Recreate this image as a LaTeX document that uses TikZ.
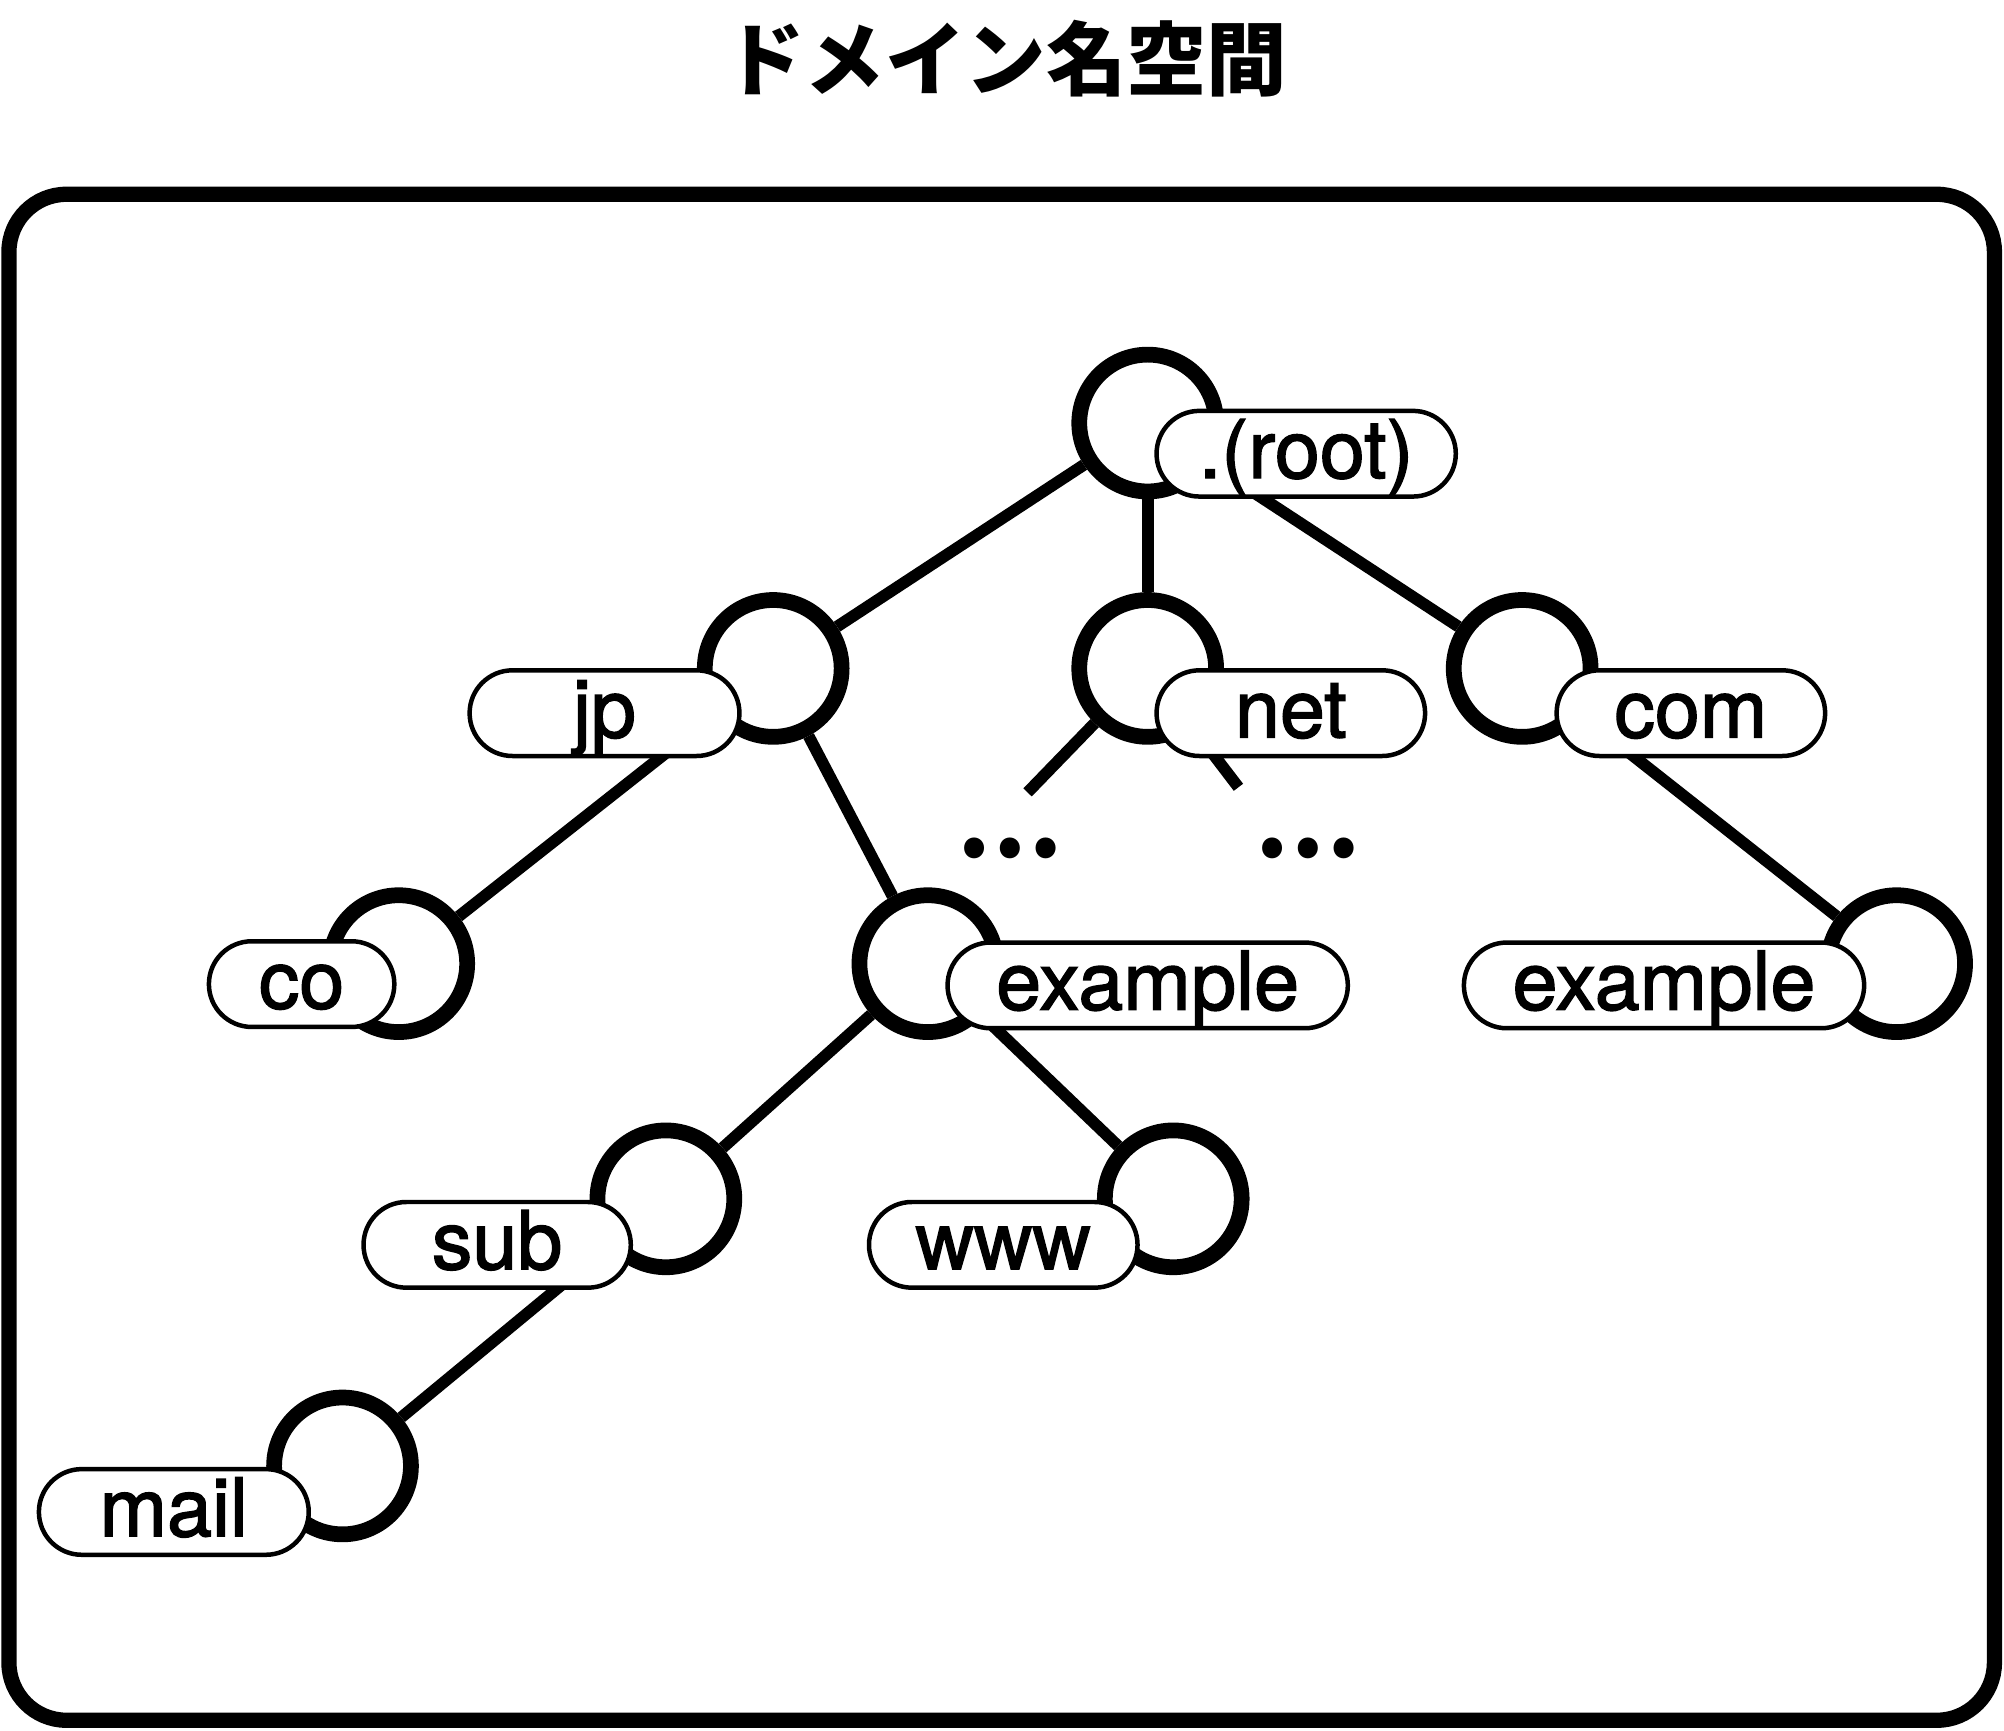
\documentclass[tikz,border=0pt]{standalone}
\usepackage{fontspec}
\setmainfont{Noto Sans CJK JP}
\newfontfamily\tagfont{TeX Gyre Heros}[FakeBold=1.8]
\usetikzlibrary{positioning}
\tikzset{
  dom/.style={circle, draw, line width=3.5pt, fill=white, minimum size=1.07cm, inner sep=0pt},
  tag/.style={draw, line width=1pt, fill=white, rounded corners=0.335cm,
    minimum height=0.67cm, inner xsep=0.2cm, inner ysep=0pt,
    text height=0.46cm, text depth=0.08cm, font=\tagfont\fontsize{18}{18}\selectfont},
  link/.style={line width=2.6pt},
  more/.style={font=\bfseries\fontsize{21}{21}\selectfont, inner sep=0pt}
}
\begin{document}
\begin{tikzpicture}[x=0.01cm, y=-0.01cm]
\useasboundingbox (0,0) rectangle (1568,1354);
\node[font=\bfseries\fontsize{17.9}{18}\selectfont] (title) at (787,46) {ドメイン名空間};
\draw[line width=3.4pt, rounded corners=0.45cm] (7,152) rectangle (1560.5,1346);

% circles
\foreach \n/\x/\y in {root/898/331, jp/605/523, net/898/523, com/1191/523,
  co/312/754, exjp/726/754, excom/1484/754, sub/521/938, www/918/938, mail/268/1147}
  \node[dom] (\n) at (\x,\y) {};

% links
\coordinate (netL) at (804,620);
\coordinate (netR) at (969,616);
\foreach \a/\b in {root/jp, root/net, root/com, jp/co, jp/exjp, com/excom,
  exjp/sub, exjp/www, sub/mail, net/netL, net/netR}
  \draw[link] (\a) -- (\b);

% labels
\foreach \n/\x/\y/\w/\t in {root/1022/355/2.34/.(root), jp/473/558/2.11/jp,
  net/1010/558/2.10/net, com/1323/558/2.10/com, co/236/770/1.45/co,
  exjp/898/771/3.13/example, excom/1302/771/3.13/example,
  sub/389/974/2.09/sub, www/785/974/2.10/www, mail/136/1183/2.11/mail}
  \node[tag, minimum width=\w cm] (\n-tag) at (\x,\y) {\t};

\node[more] (dotsL) at (790,664) {…};
\node[more] (dotsR) at (1023,664) {…};
\end{tikzpicture}
\end{document}
